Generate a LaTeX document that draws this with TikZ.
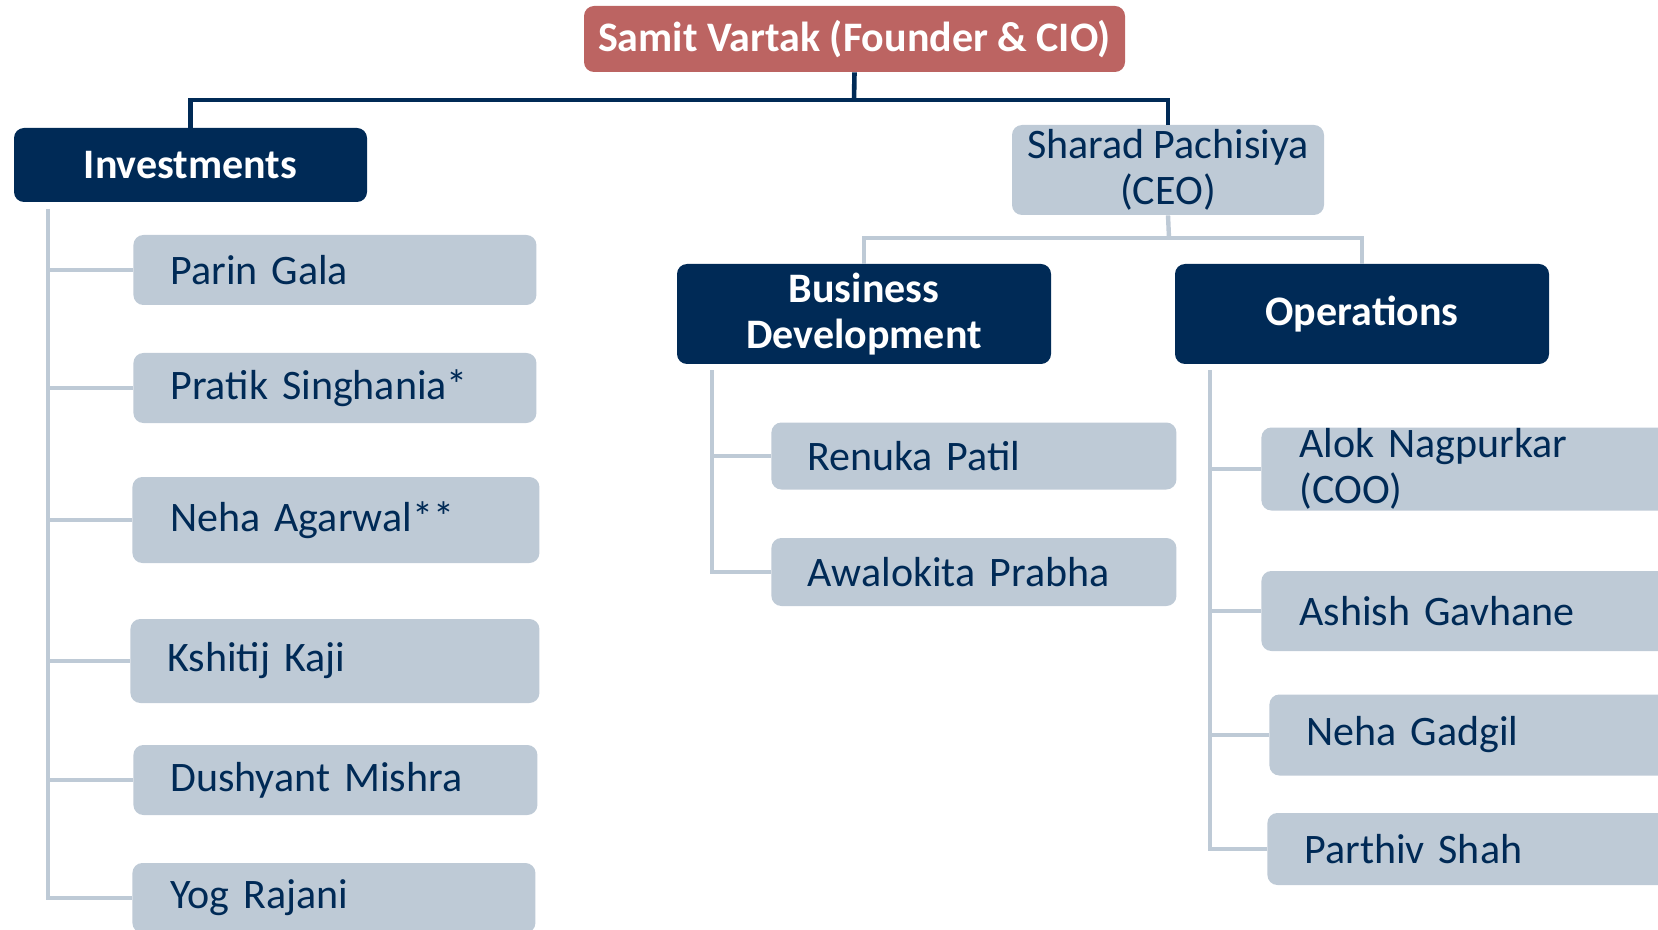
\documentclass[tikz,border=0pt]{standalone}
\usepackage{fontspec}
\setmainfont{Carlito}
\definecolor{navy}{RGB}{0,42,86}
\definecolor{lightb}{RGB}{190,202,214}
\definecolor{redbox}{RGB}{188,100,98}
\begin{document}
\begin{tikzpicture}[x=0.5pt,y=-0.5pt,
  box/.style={rounded corners=5pt, inner sep=0pt, font=\fontsize{21}{23}\selectfont},
  darkbox/.style={box, fill=navy, text=white, font=\fontsize{21}{23}\selectfont\bfseries, align=center},
  ceobox/.style={box, fill=lightb, text=navy, align=center},
  member/.style={box, fill=lightb, text=navy, anchor=west, align=left},
  navyline/.style={draw=navy, line width=2.3pt},
  lightline/.style={draw=lightb, line width=2.2pt}]
\useasboundingbox (0,0) rectangle (1658,930);
\clip (0,0) rectangle (1658,930);

% top level
\node[darkbox, fill=redbox, minimum width=270.5pt, minimum height=33pt] (title) at (854.5,39) {Samit Vartak (Founder \& CIO)};
\node[darkbox, minimum width=176.5pt, minimum height=37pt] (inv) at (190.5,165) {Investments};
\node[ceobox, minimum width=156pt, minimum height=45pt] (ceo) at (1168,170) {Sharad Pachisiya\\(CEO)};
\node[darkbox, minimum width=187pt, minimum height=50pt] (bd) at (864,314) {Business\\Development};
\node[darkbox, minimum width=187pt, minimum height=50pt] (ops) at (1362,314) {Operations};

% investments members
\node[member, minimum width=201.5pt, minimum height=35pt, inner xsep=18.5pt, text width=164.5pt] (p1) at (133,270) {Parin Gala};
\node[member, minimum width=201.5pt, minimum height=35pt, inner xsep=18.5pt, text width=164.5pt] (p2) at (133,388) {Pratik Singhania*};
\node[member, minimum width=203.5pt, minimum height=43pt, inner xsep=19pt, text width=165.5pt] (p3) at (132,520) {Neha Agarwal**};
\node[member, minimum width=204.5pt, minimum height=42pt, inner xsep=18.5pt, text width=167.5pt] (p4) at (130,661) {Kshitij Kaji};
\node[member, minimum width=202pt, minimum height=35pt, inner xsep=18.5pt, text width=165pt] (p5) at (133,780) {Dushyant Mishra};
\node[member, minimum width=201.5pt, minimum height=35pt, inner xsep=19pt, text width=163.5pt] (p6) at (132,898) {Yog Rajani};

% business development members
\node[member, minimum width=202.5pt, minimum height=33.5pt, inner xsep=18pt, text width=166.5pt] (r1) at (771,456) {Renuka Patil};
\node[member, minimum width=202.5pt, minimum height=34pt, inner xsep=18pt, text width=166.5pt] (r2) at (771,572) {Awalokita Prabha};

% operations members
\node[member, minimum width=230pt, minimum height=41.5pt, inner xsep=19pt, text width=192pt] (o1) at (1261,469) {Alok Nagpurkar\\(COO)};
\node[member, minimum width=230pt, minimum height=40pt, inner xsep=19pt, text width=192pt] (o2) at (1261,611) {Ashish Gavhane};
\node[member, minimum width=230pt, minimum height=40.5pt, inner xsep=18.5pt, text width=193pt] (o3) at (1269,735) {Neha Gadgil};
\node[member, minimum width=230pt, minimum height=36pt, inner xsep=18.5pt, text width=193pt] (o4) at (1267,849) {Parthiv Shah};

% connectors
\coordinate (bus) at (854,100);
\draw[navyline] (title.south) -- (bus);
\draw[navyline] (inv.north) -- (inv.north |- bus) -- (ceo.north |- bus) -- (ceo.north);

\coordinate (bus2) at (1169,238);
\draw[lightline] (ceo.south) -- (bus2);
\draw[lightline] (bd.north) |- (bus2) -| (ops.north);

\coordinate (it) at (48,209);
\draw[lightline] (it) |- (p6.west);
\foreach \n in {p1,p2,p3,p4,p5} \draw[lightline] (it |- \n.west) -- (\n.west);

\coordinate (bt) at (712,370);
\draw[lightline] (bt) |- (r2.west);
\draw[lightline] (bt |- r1.west) -- (r1.west);

\coordinate (ot) at (1210,370);
\draw[lightline] (ot) |- (o4.west);
\foreach \n in {o1,o2,o3} \draw[lightline] (ot |- \n.west) -- (\n.west);
\end{tikzpicture}
\end{document}
